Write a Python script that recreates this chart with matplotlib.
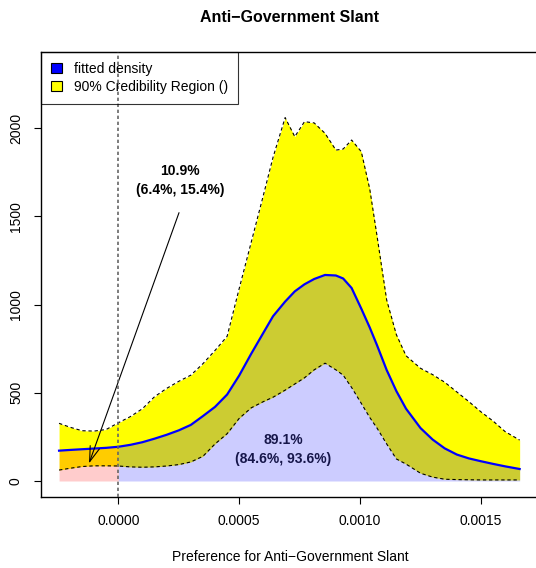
import numpy as np
import matplotlib.pyplot as plt
from matplotlib.patches import Patch

plt.rcParams['font.family'] = ['Liberation Sans', 'DejaVu Sans']

"""
Data read off the reference
"""
x = np.array([-0.000245, -0.0002, -0.00015, -0.0001, -0.00005, 0.0, 0.00005, 0.0001,
              0.00015, 0.0002, 0.00025, 0.0003, 0.00035, 0.0004, 0.00045, 0.0005,
              0.00055, 0.0006, 0.00064, 0.00069, 0.00073, 0.00077, 0.00081, 0.000855,
              0.0009, 0.00093, 0.000965, 0.001005, 0.00104, 0.00107, 0.00111, 0.00115,
              0.00119, 0.00125, 0.0013, 0.00135, 0.0014, 0.00145, 0.0015, 0.00155,
              0.0016, 0.00166])

density = np.array([172, 176, 180, 184, 188, 194, 205, 220, 240, 262, 287, 318, 368, 420,
                    490, 598, 722, 840, 934, 1017, 1075, 1115, 1145, 1168, 1165, 1148,
                    1094, 977, 870, 770, 629, 510, 410, 300, 235, 185, 150, 128, 112,
                    97, 83, 68])

upper = np.array([327, 305, 285, 283, 292, 330, 365, 410, 478, 525, 565, 600, 665, 740,
                  820, 1091, 1355, 1620, 1835, 2060, 1952, 2037, 2030, 1971, 1876, 1882,
                  1933, 1867, 1655, 1390, 1026, 830, 710, 639, 603, 560, 505, 450, 392,
                  340, 280, 232])

lower = np.array([62, 72, 82, 86, 86, 85, 80, 78, 80, 85, 93, 108, 140, 210, 268, 355,
                  415, 450, 475, 515, 550, 585, 630, 668, 630, 600, 530, 440, 360, 300,
                  210, 125, 96, 44, 22, 10, 8, 7, 6, 6, 6, 6])

left_share = "10.9%\n(6.4%, 15.4%)"
right_share = "89.1%\n(84.6%, 93.6%)"

xticks = [0.0, 0.0005, 0.001, 0.0015]
xtick_labels = ["0.0000", "0.0005", "0.0010", "0.0015"]
yticks = [0, 500, 1000, 1500, 2000]

"""
Plot
"""
fig = plt.figure(figsize=(5.36, 5.68), dpi=100)
ax = fig.add_axes([41 / 536, 71 / 568, 498 / 536, 445 / 568])

# credibility band
ax.fill_between(x, lower, upper, color="yellow", lw=0)

# area under the fitted density, split at zero
neg = x <= 0
pos = x >= 0
ax.fill_between(x[neg], 0, density[neg], color="red", alpha=0.2, lw=0)
ax.fill_between(x[pos], 0, density[pos], color="blue", alpha=0.2, lw=0)

ax.plot(x, upper, color="black", lw=0.8, ls=(0, (3, 2.5)))
ax.plot(x, lower, color="black", lw=0.8, ls=(0, (3, 2.5)))
ax.plot(x, density, color="blue", lw=1.6)

ax.axvline(0, color="#666666", lw=1.2, ls=(0, (2, 1.6)), zorder=5)

ax.annotate("", xy=(-0.000125, 85), xytext=(0.000255, 1536),
            arrowprops=dict(arrowstyle="->,head_length=1.1,head_width=0.35",
                            color="black", lw=0.8))
ax.text(0.000255, 1706, left_share, ha="center", va="center", fontsize=10,
        fontweight="bold", linespacing=1.45)
ax.text(0.000681, 181, right_share, ha="center", va="center", fontsize=10,
        fontweight="bold", linespacing=1.45, color="#16164a")

ax.set_xlim(-0.0003197, 0.00174)
ax.set_ylim(-90.7, 2432)
ax.set_xticks(xticks)
ax.set_xticklabels(xtick_labels)
ax.set_yticks(yticks)
ax.tick_params(axis="both", labelsize=10, length=5, width=0.8, direction="out")
ax.tick_params(axis="x", pad=7)
ax.tick_params(axis="y", pad=8)
plt.setp(ax.get_yticklabels(), rotation=90, va="center")
ax.spines["right"].set_visible(False)
for s in ["left", "top", "bottom"]:
    ax.spines[s].set_linewidth(1.0)

handles = [Patch(facecolor="blue", edgecolor="black", lw=0.8),
           Patch(facecolor="yellow", edgecolor="black", lw=0.8)]
leg = ax.legend(handles, ["fitted density", "90% Credibility Region ()"],
                loc="upper left", borderaxespad=0, fancybox=False, fontsize=10,
                handlelength=0.8, handleheight=0.8, handletextpad=0.9,
                labelspacing=0.3, borderpad=0.7)
leg.get_frame().set_facecolor("none")
leg.get_frame().set_edgecolor("black")
leg.get_frame().set_linewidth(0.8)

fig.text(290 / 536, 1 - 17 / 568, "Anti\u2212Government Slant", ha="center",
         va="center", fontsize=11.5, fontweight="bold")
fig.text(290 / 536, 1 - 557 / 568, "Preference for Anti\u2212Government Slant",
         ha="center", va="center", fontsize=10)

fig.savefig("out.png", dpi=100)
